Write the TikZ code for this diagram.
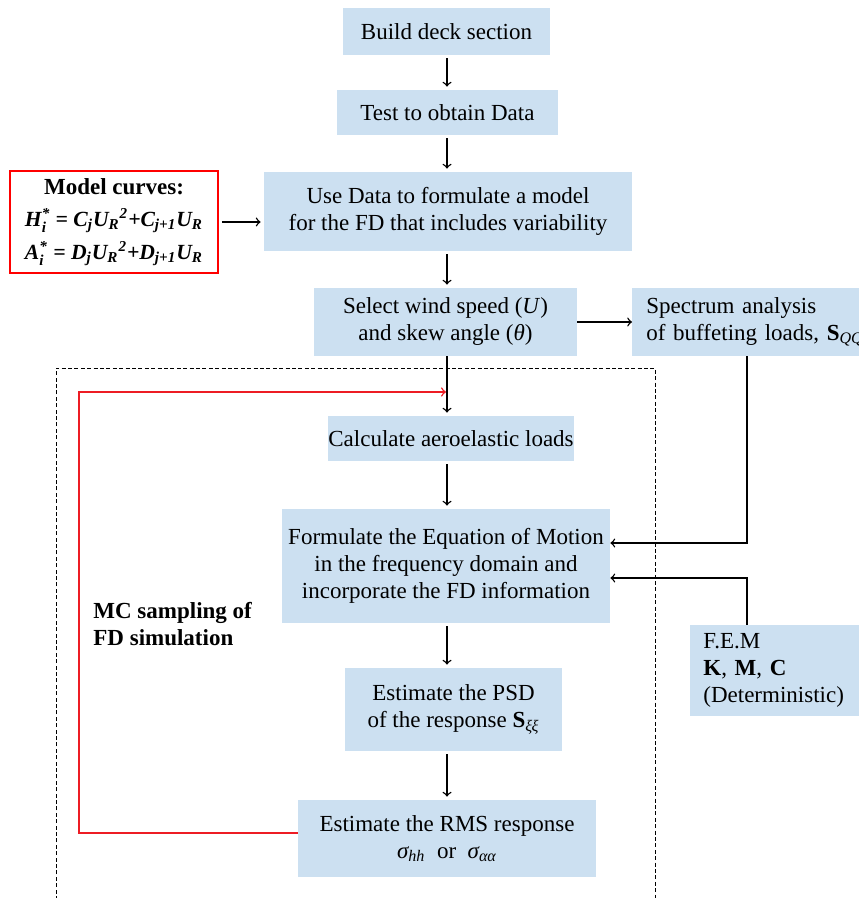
\documentclass[tikz,border=0pt]{standalone}
\usepackage{amsmath}
\usepackage{fontspec}
\setmainfont{Liberation Serif}
\definecolor{boxblue}{RGB}{204,224,241}
\definecolor{loopred}{RGB}{237,28,36}
% text with a stacked sub- and superscript
\newcommand{\subsup}[3]{$\text{#1}_{\text{#2}}^{\text{#3}}$}
\newcommand{\subtxt}[2]{$\text{#1}_{\text{#2}}$}
\newcommand{\subthensup}[3]{$\text{#1}_{\text{#2}}{}^{\text{#3}}$}
% one model curve line: #1 derivative, #2 coefficient letter
\newcommand{\formulaline}[2]{{\fontsize{10.8}{13}\selectfont\bfseries\itshape
    \subsup{#1}{i}{*} = \subtxt{#2}{j}\subthensup{U}{R}{2}+\subtxt{#2}{j+1}\subtxt{U}{R}}}

\begin{document}
\begin{tikzpicture}[
    x=0.5pt, y=-0.5pt,
    box_style/.style={fill=boxblue, inner sep=0pt, align=center, font=\fontsize{11.5}{13.5}\selectfont},
    side_style/.style={fill=boxblue, inner ysep=0pt, align=left, anchor=west, font=\fontsize{11.5}{13.5}\selectfont},
    model_style/.style={draw=red, line width=0.75pt, fill=white, inner sep=0pt, align=center, font=\fontsize{11.5}{13.5}\selectfont},
    arrow_style/.style={->, line width=0.7pt, shorten <=1.5pt, shorten >=1.5pt},
    link_style/.style={->, line width=0.7pt},
    loop_style/.style={->, loopred, line width=0.75pt},
    frame_style/.style={line width=0.5pt, dash pattern=on 2pt off 1.2pt}
]
    \useasboundingbox (0,0) rectangle (858,898);

    % --- Main column ---
    \coordinate (axis) at (447,0);
    \node[box_style, minimum width=103.5pt, minimum height=23.5pt] (build) at (446.5,31.5) {Build deck section};
    \node[box_style, minimum width=110.5pt, minimum height=22.5pt] (test) at (447.5,112.5) {Test to obtain Data};
    \node[box_style, minimum width=184pt, minimum height=39.5pt] (usedata) at (448,211.5)
        {Use Data to formulate a model\\for the FD that includes variability};
    \node[box_style, minimum width=131.5pt, minimum height=34pt] (select) at (445.5,322)
        {Select wind speed (\textit{U})\\and skew angle (\textit{θ})};
    \node[box_style, minimum width=123pt, minimum height=22.5pt] (calc) at (451,438.5) {Calculate aeroelastic loads};
    \node[box_style, minimum width=164pt, minimum height=57pt] (formulate) at (446,566)
        {Formulate the Equation of Motion\\in the frequency domain and\\incorporate the FD information};
    \node[box_style, minimum width=108.5pt, minimum height=41.5pt] (psd) at (453.5,709.5)
        {Estimate the PSD\\of the response \textbf{S}\textsubscript{\textit{ξξ}}};
    \node[box_style, minimum width=149pt, minimum height=38.5pt] (rms) at (447,838.5)
        {Estimate the RMS response\\\subtxt{\itshape σ}{\itshape hh}\ \ or\ \ \subtxt{\itshape σ}{\itshape αα}};

    % --- Side boxes ---
    \node[model_style, minimum width=104pt, minimum height=51pt] (model) at (114,222)
        {\textbf{Model curves:}\\[2.5pt]
         \formulaline{H}{C}\\[3pt]
         \formulaline{A}{D}};
    \node[side_style, inner xsep=7pt, text width=112pt, minimum height=34pt] (spectrum) at (632,322)
        {Spectrum analysis\\of buffeting loads, \textbf{S}\textsubscript{\textit{QQ}}};
    \node[side_style, inner xsep=6.5pt, text width=80pt, minimum height=45.5pt] (fem) at (690,670.5)
        {F.E.M\\\textbf{K}, \textbf{M}, \textbf{C}\\(Deterministic)};

    % --- Monte Carlo frame ---
    \draw[frame_style] (56,900) -- (56,368) -- (655,368) -- (655,900);
    \node[anchor=west, inner sep=0pt, align=left, font=\fontsize{11.5}{13.5}\selectfont\bfseries] (mc) at (93,624)
        {MC sampling of\\FD simulation};

    % --- Arrows down the main column ---
    \draw[arrow_style] (build.south -| axis) -- (test.north -| axis);
    \draw[arrow_style] (test.south -| axis) -- (usedata.north -| axis);
    \draw[arrow_style] (usedata.south -| axis) -- (select.north -| axis);
    \draw[arrow_style, shorten <=0pt] (select.south -| axis) -- (calc.north -| axis);
    \draw[arrow_style] (calc.south -| axis) -- (formulate.north -| axis);
    \draw[arrow_style] (formulate.south -| axis) -- (psd.north -| axis);
    \draw[arrow_style] (psd.south -| axis) -- (rms.north -| axis);

    % --- Side connectors ---
    \draw[arrow_style] (model.east) -- (usedata.west |- model.east);
    \draw[link_style] (select.east) -- (spectrum.west);
    \coordinate (spec_turn) at (747,543);
    \coordinate (fem_turn) at (747,578);
    \draw[link_style] (spectrum.south -| spec_turn) -- (spec_turn) -- (formulate.east |- spec_turn);
    \draw[link_style] (fem.north -| fem_turn) -- (fem_turn) -- (formulate.east |- fem_turn);

    % --- Red sampling loop ---
    \coordinate (loop_bl) at (79,833);
    \coordinate (loop_tip) at (446,392);
    \draw[loop_style] (rms.west |- loop_bl) -- (loop_bl) |- (loop_tip);

\end{tikzpicture}
\end{document}
